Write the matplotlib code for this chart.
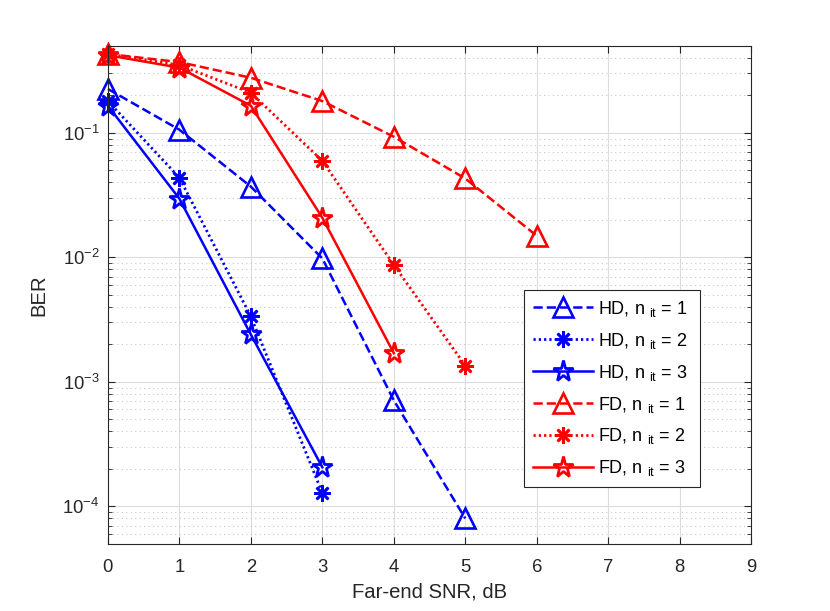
import matplotlib
matplotlib.use("Agg")
import matplotlib.pyplot as plt
from matplotlib.ticker import LogLocator, NullFormatter, FixedLocator

plt.rcParams['font.family'] = ['Liberation Sans', 'DejaVu Sans']
plt.rcParams['mathtext.fontset'] = 'custom'
plt.rcParams['mathtext.rm'] = 'Liberation Sans'
plt.rcParams['mathtext.it'] = 'Liberation Sans'
plt.rcParams['mathtext.default'] = 'regular'

snr_hd1 = [0, 1, 2, 3, 4, 5]
ber_hd1 = [0.225, 0.106, 0.037, 0.0098, 7.1e-4, 8.0e-5]
snr_hd2 = [0, 1, 2, 3]
ber_hd2 = [0.18, 0.0436, 3.35e-3, 1.28e-4]
snr_hd3 = [0, 1, 2, 3]
ber_hd3 = [0.165, 0.0296, 2.4e-3, 2.06e-4]
snr_fd1 = [0, 1, 2, 3, 4, 5, 6]
ber_fd1 = [0.43, 0.37, 0.277, 0.18, 0.093, 0.043, 0.0149]
snr_fd2 = [0, 1, 2, 3, 4, 5]
ber_fd2 = [0.43, 0.35, 0.21, 0.0596, 8.7e-3, 1.35e-3]
snr_fd3 = [0, 1, 2, 3, 4]
ber_fd3 = [0.42, 0.334, 0.165, 0.0208, 1.7e-3]

labels = [r'HD, n $_{it}$ = 1', r'HD, n $_{it}$ = 2', r'HD, n $_{it}$ = 3',
          r'FD, n $_{it}$ = 1', r'FD, n $_{it}$ = 2', r'FD, n $_{it}$ = 3']

x_ticks = list(range(0, 10))

fig = plt.figure(figsize=(8.3, 6.11), dpi=100)
ax = fig.add_axes([0.13, 0.11, 0.775, 0.815])

asterisk = (8, 2, 0)
lw = 1.8
dots = (0, (0.8, 1.1))
common = dict(clip_on=False)
ax.plot(snr_hd1, ber_hd1, color='b', ls='--', lw=lw, marker='^', ms=14, mfc='none', mew=1.9, label=labels[0], **common)
ax.plot(snr_hd2, ber_hd2, color='b', ls=dots, lw=2.0, marker=asterisk, ms=12, mew=1.9, label=labels[1], **common)
ax.plot(snr_hd3, ber_hd3, color='b', ls='-', lw=lw, marker='*', ms=15.5, mfc='none', mew=2.0, label=labels[2], **common)
ax.plot(snr_fd1, ber_fd1, color='r', ls='--', lw=lw, marker='^', ms=14, mfc='none', mew=1.9, label=labels[3], **common)
ax.plot(snr_fd2, ber_fd2, color='r', ls=dots, lw=2.0, marker=asterisk, ms=12, mew=1.9, label=labels[4], **common)
ax.plot(snr_fd3, ber_fd3, color='r', ls='-', lw=lw, marker='*', ms=15.5, mfc='none', mew=2.0, label=labels[5], **common)

ax.set_yscale('log')
ax.set_xlim(0, 9)
ax.set_ylim(5e-5, 0.5)
ax.xaxis.set_major_locator(FixedLocator(x_ticks))
ax.yaxis.set_major_locator(LogLocator(base=10, numticks=10))
ax.yaxis.set_minor_locator(LogLocator(base=10, subs=range(2, 10), numticks=20))
ax.yaxis.set_minor_formatter(NullFormatter())

ax.grid(True, which='major', color='#dcdcdc', lw=0.8, ls='-')
ax.grid(True, which='minor', axis='y', color='#c8c8c8', lw=0.8, ls=(0, (1, 3)))
ax.set_axisbelow(True)

for sp in ax.spines.values():
    sp.set_color('#262626')
    sp.set_linewidth(0.8)
ax.tick_params(which='both', direction='in', top=True, right=True, colors='#262626', labelsize=13.3)
ax.tick_params(which='major', length=5)
ax.tick_params(which='minor', length=3)
ax.tick_params(axis='x', which='major', pad=11)
ax.tick_params(axis='y', which='major', pad=6)
for t in ax.get_xticklabels() + ax.get_yticklabels():
    t.set_color('#262626')

ax.set_xlabel('Far-end SNR, dB', fontsize=14.6, color='#262626')
ax.set_ylabel('BER', fontsize=14.6, color='#262626')
ax.xaxis.set_label_coords(0.5, -0.077)
ax.yaxis.set_label_coords(-0.093, 0.5)

leg = ax.legend(loc='upper left', bbox_to_anchor=(0.647, 0.1145, 0.273, 0.3956), mode='expand',
                fontsize=13, handlelength=3.3, borderpad=0.5, labelspacing=0.66, handletextpad=0.3,
                borderaxespad=0, fancybox=False, edgecolor='#262626', framealpha=1)
leg.get_frame().set_linewidth(0.8)

fig.savefig('out.png', dpi=100, facecolor='white')
